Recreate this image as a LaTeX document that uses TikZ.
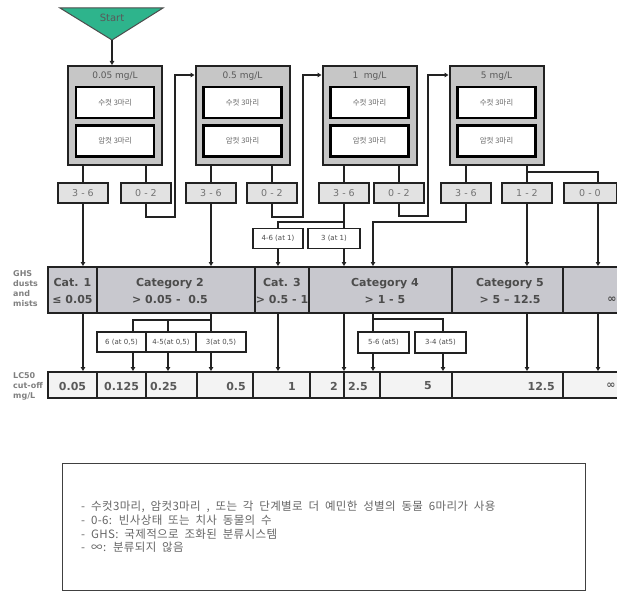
\documentclass[tikz,border=0pt]{standalone}
\usepackage{fontspec}
\setmainfont{DejaVu Sans}
\newfontfamily\kr{Noto Sans CJK KR}
\newfontfamily\krleg[WordSpace=2,LetterSpace=3]{Noto Sans CJK KR}
\usetikzlibrary{arrows.meta,calc}
\definecolor{startgreen}{HTML}{2EB48C}
\definecolor{boxfill}{HTML}{C6C6C6}
\definecolor{catfill}{HTML}{C8C8CE}
\definecolor{resfill}{HTML}{E2E2E2}
\definecolor{valfill}{HTML}{F3F3F3}
\definecolor{ink}{HTML}{222222}
\tikzset{
  ln/.style={draw=ink, line width=1.6pt},
  arr/.style={ln, -{Triangle[length=4pt,width=4.5pt]}},
  bigbox/.style={draw=ink, line width=2pt, fill=boxfill, minimum width=94pt, minimum height=99pt, inner sep=0pt},
  hdr/.style={font=\fontsize{9}{10}\selectfont, text=black!65, inner sep=0pt},
  inbox/.style={draw=black, line width=2.2pt, fill=white, minimum width=78pt, minimum height=31pt, inner sep=0pt, font=\kr\fontsize{7.5}{8}\selectfont, text=black!60},
  res/.style={draw=ink, line width=2pt, fill=resfill, minimum width=50pt, minimum height=20pt, inner sep=0pt, font=\fontsize{9.5}{10}\selectfont, text=black!55},
  sub/.style={draw=ink, line width=1.8pt, fill=white, minimum height=20pt, inner sep=0pt, font=\fontsize{7}{8}\selectfont, text=black!70},
  cat/.style={draw=ink, line width=2pt, fill=catfill, minimum height=46pt, inner sep=0pt},
  cattxt/.style={align=center, font=\bfseries\fontsize{11}{17}\selectfont, text=black!70, inner sep=0pt},
  val/.style={draw=ink, line width=2pt, fill=valfill, minimum height=26pt, inner sep=0pt},
  valtxt/.style={font=\bfseries\fontsize{11}{12}\selectfont, text=black!65, inner sep=0pt},
  side/.style={anchor=north west, align=left, font=\bfseries\fontsize{8}{10}\selectfont, text=black!50, inner sep=0pt}
}
\begin{document}
\begin{tikzpicture}[x=1pt,y=-1pt]
\useasboundingbox (0,0) rectangle (617,591);

% start
\draw[draw=black!70, line width=1pt, fill=startgreen] (60,8) -- (163,8) -- (112,40) -- cycle;
\coordinate (apex) at (112,40);
\node[font=\fontsize{10}{11}\selectfont, text=black!65] (start) at (112,17.5) {Start};

% concentration boxes
\node[bigbox] (box1) at (115,115.5) {};
\node[bigbox] (box2) at (242.5,115.5) {};
\node[bigbox] (box3) at (369.5,115.5) {};
\node[bigbox] (box4) at (496.5,115.5) {};
\node[hdr] (h1) at (115,76) {0.05 mg/L};
\node[hdr] (h2) at (242.5,76) {0.5 mg/L};
\node[hdr] (h3) at (369.5,76) {1\ \ mg/L};
\node[hdr] (h4) at (496.5,76) {5 mg/L};
\foreach \n/\x in {1/115,2/242.5,3/369.5,4/496.5}{
  \node[inbox] (m\n) at (\x,102.5) {수컷 3마리};
  \node[inbox] (f\n) at (\x,141) {암컷 3마리};
}
\draw[arr] (apex) -- (apex |- box1.north);

% results
\node[res] (r1) at (83,193) {3 - 6};
\node[res] (r2) at (146,193) {0 - 2};
\node[res] (r3) at (211,193) {3 - 6};
\node[res] (r4) at (272,193) {0 - 2};
\node[res] (r5) at (344,193) {3 - 6};
\node[res] (r6) at (399,193) {0 - 2};
\node[res] (r7) at (466,193) {3 - 6};
\node[res] (r8) at (527,193) {1 - 2};
\node[res, minimum width=53pt] (r9) at (590,193) {0 - 0};

\draw[ln] (box1.south -| r1) -- (r1.north);
\draw[ln] (box1.south -| r2) -- (r2.north);
\draw[ln] (box2.south -| r3) -- (r3.north);
\draw[ln] (box2.south -| r4) -- (r4.north);
\draw[ln] (box3.south -| r5) -- (r5.north);
\draw[ln] (box3.south -| r6) -- (r6.north);
\draw[ln] (box4.south -| r7) -- (r7.north);
\draw[ln] (box4.south -| r8) -- (r8.north);
\coordinate (k9) at (527,172);
\draw[ln] (k9) -| ([xshift=8pt]r9.north);

% feedback to next concentration
\coordinate (fb2) at (175,75);
\coordinate (fb3) at (303,75);
\coordinate (fb4) at (428,75);
\draw[arr] (r2.south) -- ++(0,13) -| (fb2) -- (fb2 -| box2.west);
\draw[arr] (r4.south) -- ++(0,13) -| (fb3) -- (fb3 -| box3.west);
\draw[arr] (r6.south) -- ++(0,12) -| (fb4) -- (fb4 -| box4.west);

% sub boxes at 1 mg/L
\node[sub, minimum width=50pt] (s1) at (278,238.5) {4-6 (at 1)};
\node[sub, minimum width=52pt] (s2) at (334,238.5) {3 (at 1)};

% category row
\node[cat, minimum width=49pt] (c1) at (72.5,290) {};
\node[cat, minimum width=158pt] (c2) at (176,290) {};
\node[cat, minimum width=54pt] (c3) at (282,290) {};
\node[cat, minimum width=143pt] (c4) at (380.5,290) {};
\node[cat, minimum width=111pt] (c5) at (507.5,290) {};
\node[cat, minimum width=80pt] (c6) at (603,290) {};
\node[cattxt] (ct1) at (72.5,291) {Cat. 1\\≤ 0.05};
\node[cattxt] (ct2) at (170,291) {Category 2\\> 0.05 -\ \ 0.5};
\node[cattxt] (ct3) at (282,291) {Cat. 3\\> 0.5 - 1};
\node[cattxt] (ct4) at (385,291) {Category 4\\> 1 - 5};
\node[cattxt] (ct5) at (510,291) {Category 5\\> 5 – 12.5};
\node[cattxt] (ct6) at (612,300) {∞};

% results -> categories
\coordinate (j5) at (344,222);
\coordinate (j7) at (373,222);
\draw[arr] (r1.south) -- (r1.south |- c1.north);
\draw[arr] (r3.south) -- (r3.south |- c2.north);
\draw[ln] (r5.south) -- (r5 |- s2.north);
\draw[ln] (j5) -| (s1.north);
\draw[arr] (s1.south) -- (s1.south |- c3.north);
\draw[arr] (r5 |- s2.south) -- (r5 |- c4.north);
\draw[arr] (r7.south) |- (j7) -- (j7 |- c4.north);
\draw[arr] (r8.south) -- (r8.south |- c5.north);
\draw[arr] ([xshift=8pt]r9.south) -- ([xshift=8pt]r9.south |- c6.north);

% sub boxes at 0.5 and 5 mg/L
\node[sub, minimum width=49pt] (p1) at (121.5,342) {6 (at 0,5)};
\node[sub, minimum width=50pt] (p2) at (171,342) {4-5(at 0,5)};
\node[sub, minimum width=50pt] (p3) at (221,342) {3(at 0,5)};
\node[sub, minimum width=51pt, minimum height=21pt] (w1) at (383.5,342.5) {5-6 (at5)};
\node[sub, minimum width=51pt, minimum height=21pt] (w2) at (440.5,342.5) {3-4 (at5)};

% LC50 row
\node[val, minimum width=49pt] (v1) at (72.5,385) {};
\node[val, minimum width=49pt] (v2) at (121.5,385) {};
\node[val, minimum width=51pt] (v3) at (171.5,385) {};
\node[val, minimum width=56pt] (v4) at (225,385) {};
\node[val, minimum width=57pt] (v5) at (281.5,385) {};
\node[val, minimum width=34pt] (v6) at (327,385) {};
\node[val, minimum width=36pt] (v7) at (362,385) {};
\node[val, minimum width=72pt] (v8) at (416,385) {};
\node[val, minimum width=111pt] (v9) at (507.5,385) {};
\node[val, minimum width=80pt] (v10) at (603,385) {};
\node[valtxt] (t1) at (72.5,386) {0.05};
\node[valtxt] (t2) at (121.5,386) {0.125};
\node[valtxt, anchor=west] (t3) at (150,386) {0.25};
\node[valtxt, anchor=east] (t4) at (246,386) {0.5};
\node[valtxt] (t5) at (292,386) {1};
\node[valtxt, anchor=east] (t6) at (338,386) {2};
\node[valtxt, anchor=west] (t7) at (348,386) {2.5};
\node[valtxt] (t8) at (428,386) {5};
\node[valtxt, anchor=east] (t9) at (555,386) {12.5};
\node[valtxt] (t10) at (611,386) {∞};

% categories -> LC50
\coordinate (q1) at (133,320);
\coordinate (q2) at (168,320);
\coordinate (q3) at (211,320);
\coordinate (u1) at (373,319);
\coordinate (u2) at (443,319);
\draw[arr] (r1 |- c1.south) -- (r1 |- v1.north);
\draw[ln] (q3 |- c2.south) -- (q3) -- (q1) -- (q1 |- p1.north);
\draw[ln] (q2) -- (q2 |- p2.north);
\draw[ln] (q3) -- (q3 |- p3.north);
\draw[arr] (q1 |- p1.south) -- (q1 |- v2.north);
\draw[arr] (q2 |- p2.south) -- (q2 |- v3.north);
\draw[arr] (q3 |- p3.south) -- (q3 |- v4.north);
\draw[arr] (s1 |- c3.south) -- (s1 |- v5.north);
\draw[arr] (r5 |- c4.south) -- (r5 |- v7.north);
\draw[ln] (u1 |- c4.south) -- (u1) -- (u2) -- (u2 |- w2.north);
\draw[ln] (u1) -- (u1 |- w1.north);
\draw[arr] (u1 |- w1.south) -- (u1 |- v7.north);
\draw[arr] (u2 |- w2.south) -- (u2 |- v8.north);
\draw[arr] (r8 |- c5.south) -- (r8 |- v9.north);
\draw[arr] ([xshift=8pt]r9 |- c6.south) -- ([xshift=8pt]r9 |- v10.north);

% side labels
\node[side] (ghs) at (13,270) {GHS\\dusts\\and\\mists};
\node[side] (lcl) at (13,372) {LC50\\cut-off\\mg/L};

% legend
\node[draw=black!75, line width=1pt, minimum width=523pt, minimum height=127pt, inner sep=0pt] (legend) at (323.5,526.5) {};
\node[anchor=north west, align=left, inner sep=0pt, text=black!60, font=\krleg\fontsize{11.5}{13.7}\selectfont] (legtxt) at (81,501) {%
-\hspace{6pt}수컷3마리, 암컷3마리 , 또는 각 단계별로 더 예민한 성별의 동물 6마리가 사용\\
-\hspace{6pt}0-6: 빈사상태 또는 치사 동물의 수\\
-\hspace{6pt}GHS: 국제적으로 조화된 분류시스템\\
-\hspace{6pt}∞: 분류되지 않음};
\end{tikzpicture}
\end{document}
